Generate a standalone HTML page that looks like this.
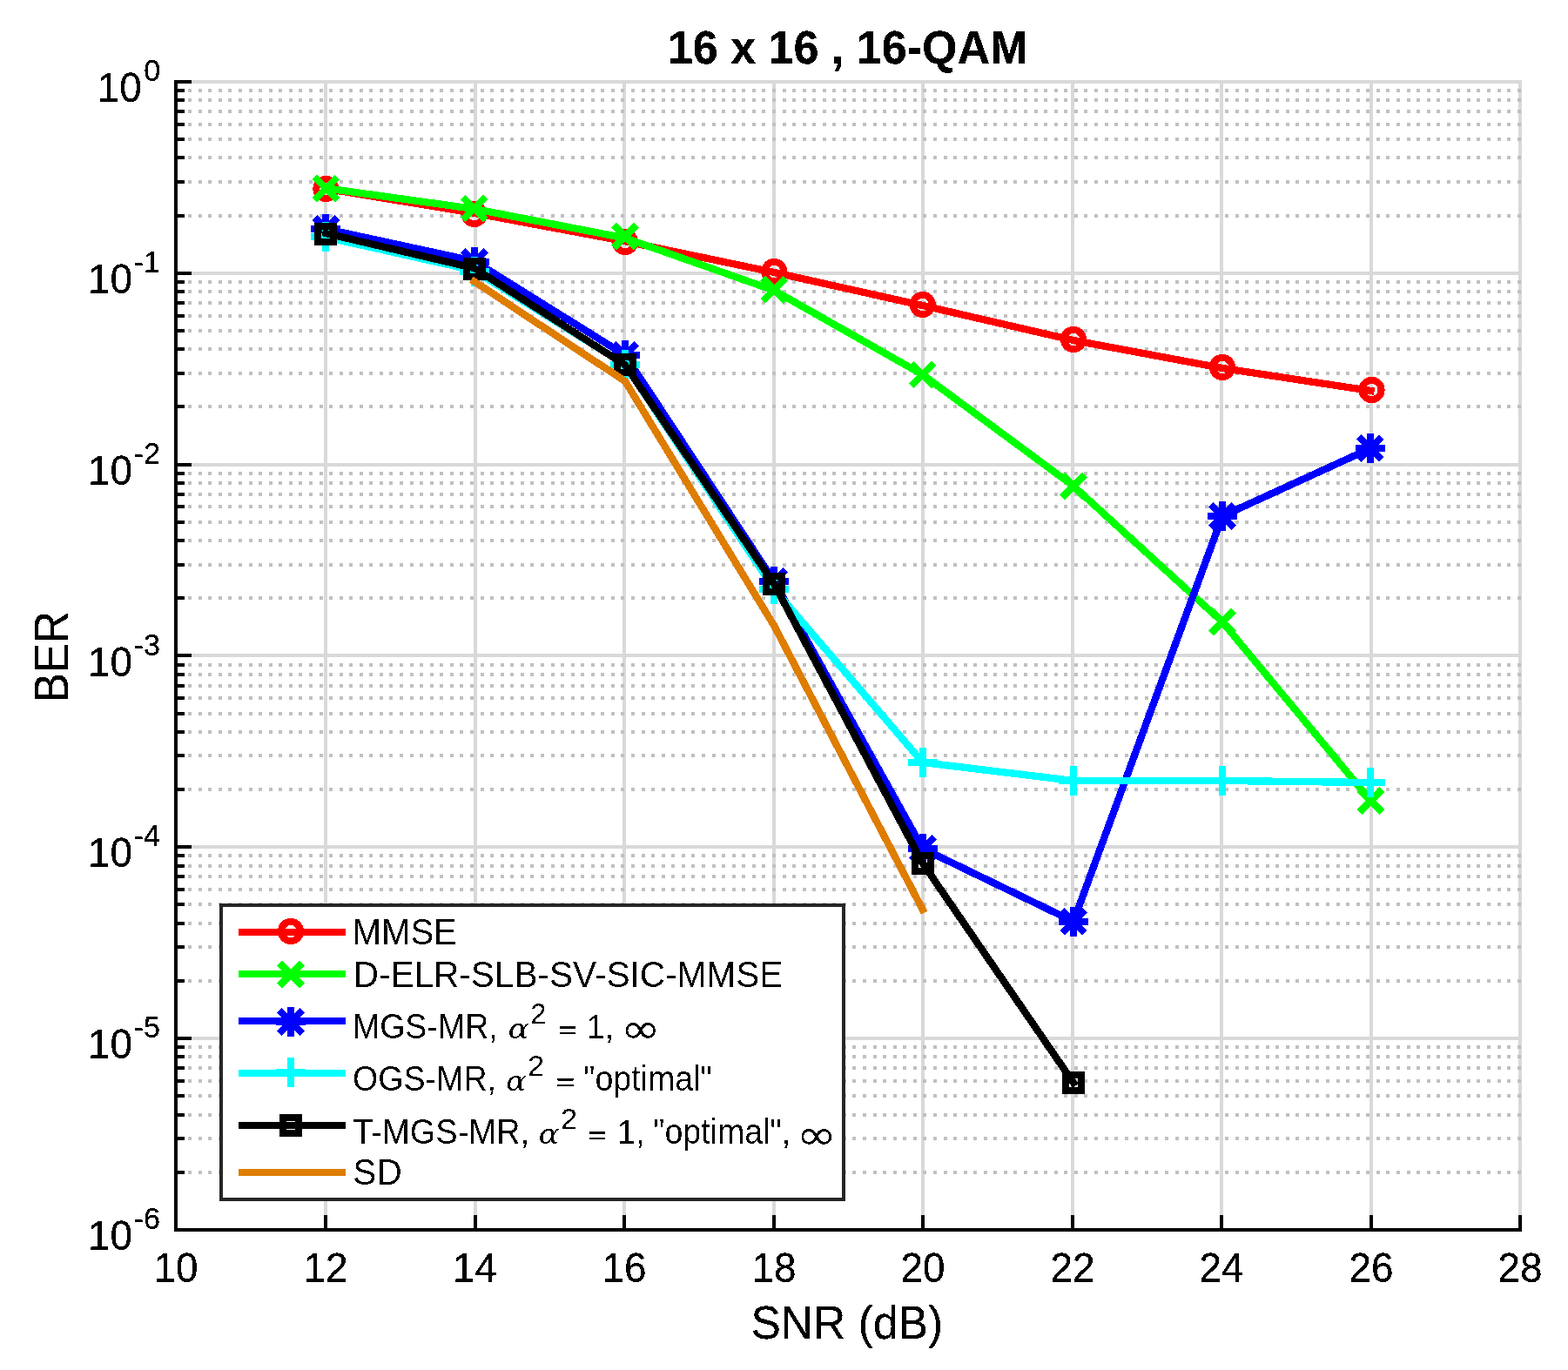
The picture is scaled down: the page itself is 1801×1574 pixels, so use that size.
<!DOCTYPE html>
<html lang="en"><head><meta charset="utf-8"><title>16 x 16 , 16-QAM</title>
<style>html,body{margin:0;padding:0;background:#fff}svg{display:block}text{font-family:"Liberation Sans",sans-serif;fill:#000}.m{font-family:"DejaVu Serif","Liberation Serif",serif;font-style:italic}.i{font-family:"DejaVu Sans","Liberation Sans",sans-serif}</style></head><body>
<svg width="1801" height="1574" viewBox="0 0 1801 1574">
<rect x="0" y="0" width="1801" height="1574" fill="#fff"/>
<defs><filter id="bin" x="0" y="0" width="1801" height="1574" filterUnits="userSpaceOnUse" color-interpolation-filters="sRGB"><feComponentTransfer><feFuncA type="discrete" tableValues="0 0 0 0 0 0 0 0 0 0 0 1 1 1 1 1 1 1 1 1"/></feComponentTransfer></filter><filter id="bin2" x="0" y="0" width="1801" height="1574" filterUnits="userSpaceOnUse" color-interpolation-filters="sRGB"><feComponentTransfer><feFuncA type="discrete" tableValues="0 0 0 0 0 0 0 1 1 1 1 1 1 1 1 1 1 1 1 1"/></feComponentTransfer></filter></defs>
<g shape-rendering="crispEdges">
<rect x="372" y="92" width="4" height="1321" fill="#d9d9d9"/>
<rect x="544" y="92" width="4" height="1321" fill="#d9d9d9"/>
<rect x="715" y="92" width="4" height="1321" fill="#d9d9d9"/>
<rect x="887" y="92" width="4" height="1321" fill="#d9d9d9"/>
<rect x="1058" y="92" width="4" height="1321" fill="#d9d9d9"/>
<rect x="1230" y="92" width="4" height="1321" fill="#d9d9d9"/>
<rect x="1401" y="92" width="4" height="1321" fill="#d9d9d9"/>
<rect x="1573" y="92" width="4" height="1321" fill="#d9d9d9"/>
<rect x="1744" y="92" width="4" height="1321" fill="#d9d9d9"/>
<rect x="202" y="92" width="1546" height="4" fill="#d9d9d9"/>
<rect x="202" y="312" width="1546" height="4" fill="#d9d9d9"/>
<rect x="202" y="532" width="1546" height="4" fill="#d9d9d9"/>
<rect x="202" y="751" width="1546" height="4" fill="#d9d9d9"/>
<rect x="202" y="971" width="1546" height="4" fill="#d9d9d9"/>
<rect x="202" y="1191" width="1546" height="4" fill="#d9d9d9"/>
<g stroke="#c0c0c0" stroke-width="4" stroke-dasharray="4 7.565" fill="none">
<line x1="204.6" y1="248" x2="1748" y2="248"/>
<line x1="204.6" y1="209" x2="1748" y2="209"/>
<line x1="204.6" y1="181" x2="1748" y2="181"/>
<line x1="204.6" y1="160" x2="1748" y2="160"/>
<line x1="204.6" y1="143" x2="1748" y2="143"/>
<line x1="204.6" y1="128" x2="1748" y2="128"/>
<line x1="204.6" y1="115" x2="1748" y2="115"/>
<line x1="204.6" y1="104" x2="1748" y2="104"/>
<line x1="204.6" y1="467" x2="1748" y2="467"/>
<line x1="204.6" y1="429" x2="1748" y2="429"/>
<line x1="204.6" y1="401" x2="1748" y2="401"/>
<line x1="204.6" y1="380" x2="1748" y2="380"/>
<line x1="204.6" y1="363" x2="1748" y2="363"/>
<line x1="204.6" y1="348" x2="1748" y2="348"/>
<line x1="204.6" y1="335" x2="1748" y2="335"/>
<line x1="204.6" y1="324" x2="1748" y2="324"/>
<line x1="204.6" y1="687" x2="1748" y2="687"/>
<line x1="204.6" y1="649" x2="1748" y2="649"/>
<line x1="204.6" y1="621" x2="1748" y2="621"/>
<line x1="204.6" y1="600" x2="1748" y2="600"/>
<line x1="204.6" y1="582" x2="1748" y2="582"/>
<line x1="204.6" y1="568" x2="1748" y2="568"/>
<line x1="204.6" y1="555" x2="1748" y2="555"/>
<line x1="204.6" y1="544" x2="1748" y2="544"/>
<line x1="204.6" y1="907" x2="1748" y2="907"/>
<line x1="204.6" y1="868" x2="1748" y2="868"/>
<line x1="204.6" y1="841" x2="1748" y2="841"/>
<line x1="204.6" y1="820" x2="1748" y2="820"/>
<line x1="204.6" y1="802" x2="1748" y2="802"/>
<line x1="204.6" y1="788" x2="1748" y2="788"/>
<line x1="204.6" y1="775" x2="1748" y2="775"/>
<line x1="204.6" y1="764" x2="1748" y2="764"/>
<line x1="204.6" y1="1127" x2="1748" y2="1127"/>
<line x1="204.6" y1="1088" x2="1748" y2="1088"/>
<line x1="204.6" y1="1061" x2="1748" y2="1061"/>
<line x1="204.6" y1="1039" x2="1748" y2="1039"/>
<line x1="204.6" y1="1022" x2="1748" y2="1022"/>
<line x1="204.6" y1="1007" x2="1748" y2="1007"/>
<line x1="204.6" y1="995" x2="1748" y2="995"/>
<line x1="204.6" y1="983" x2="1748" y2="983"/>
<line x1="204.6" y1="1347" x2="1748" y2="1347"/>
<line x1="204.6" y1="1308" x2="1748" y2="1308"/>
<line x1="204.6" y1="1281" x2="1748" y2="1281"/>
<line x1="204.6" y1="1259" x2="1748" y2="1259"/>
<line x1="204.6" y1="1242" x2="1748" y2="1242"/>
<line x1="204.6" y1="1227" x2="1748" y2="1227"/>
<line x1="204.6" y1="1214" x2="1748" y2="1214"/>
<line x1="204.6" y1="1203" x2="1748" y2="1203"/>
</g>
<rect x="200" y="92" width="4" height="1323" fill="#000"/>
<rect x="200" y="1411" width="1548" height="4" fill="#000"/>
<rect x="200" y="1396" width="4" height="17" fill="#000"/>
<rect x="372" y="1396" width="4" height="17" fill="#000"/>
<rect x="544" y="1396" width="4" height="17" fill="#000"/>
<rect x="715" y="1396" width="4" height="17" fill="#000"/>
<rect x="887" y="1396" width="4" height="17" fill="#000"/>
<rect x="1058" y="1396" width="4" height="17" fill="#000"/>
<rect x="1230" y="1396" width="4" height="17" fill="#000"/>
<rect x="1401" y="1396" width="4" height="17" fill="#000"/>
<rect x="1573" y="1396" width="4" height="17" fill="#000"/>
<rect x="1744" y="1396" width="4" height="17" fill="#000"/>
<rect x="202" y="92" width="18" height="4" fill="#000"/>
<rect x="202" y="312" width="18" height="4" fill="#000"/>
<rect x="202" y="532" width="18" height="4" fill="#000"/>
<rect x="202" y="751" width="18" height="4" fill="#000"/>
<rect x="202" y="971" width="18" height="4" fill="#000"/>
<rect x="202" y="1191" width="18" height="4" fill="#000"/>
<rect x="202" y="1411" width="18" height="4" fill="#000"/>
<rect x="202" y="246" width="10" height="4" fill="#000"/>
<rect x="202" y="207" width="10" height="4" fill="#000"/>
<rect x="202" y="179" width="10" height="4" fill="#000"/>
<rect x="202" y="158" width="10" height="4" fill="#000"/>
<rect x="202" y="141" width="10" height="4" fill="#000"/>
<rect x="202" y="126" width="10" height="4" fill="#000"/>
<rect x="202" y="113" width="10" height="4" fill="#000"/>
<rect x="202" y="102" width="10" height="4" fill="#000"/>
<rect x="202" y="465" width="10" height="4" fill="#000"/>
<rect x="202" y="427" width="10" height="4" fill="#000"/>
<rect x="202" y="399" width="10" height="4" fill="#000"/>
<rect x="202" y="378" width="10" height="4" fill="#000"/>
<rect x="202" y="361" width="10" height="4" fill="#000"/>
<rect x="202" y="346" width="10" height="4" fill="#000"/>
<rect x="202" y="333" width="10" height="4" fill="#000"/>
<rect x="202" y="322" width="10" height="4" fill="#000"/>
<rect x="202" y="685" width="10" height="4" fill="#000"/>
<rect x="202" y="647" width="10" height="4" fill="#000"/>
<rect x="202" y="619" width="10" height="4" fill="#000"/>
<rect x="202" y="598" width="10" height="4" fill="#000"/>
<rect x="202" y="580" width="10" height="4" fill="#000"/>
<rect x="202" y="566" width="10" height="4" fill="#000"/>
<rect x="202" y="553" width="10" height="4" fill="#000"/>
<rect x="202" y="542" width="10" height="4" fill="#000"/>
<rect x="202" y="905" width="10" height="4" fill="#000"/>
<rect x="202" y="866" width="10" height="4" fill="#000"/>
<rect x="202" y="839" width="10" height="4" fill="#000"/>
<rect x="202" y="818" width="10" height="4" fill="#000"/>
<rect x="202" y="800" width="10" height="4" fill="#000"/>
<rect x="202" y="786" width="10" height="4" fill="#000"/>
<rect x="202" y="773" width="10" height="4" fill="#000"/>
<rect x="202" y="762" width="10" height="4" fill="#000"/>
<rect x="202" y="1125" width="10" height="4" fill="#000"/>
<rect x="202" y="1086" width="10" height="4" fill="#000"/>
<rect x="202" y="1059" width="10" height="4" fill="#000"/>
<rect x="202" y="1037" width="10" height="4" fill="#000"/>
<rect x="202" y="1020" width="10" height="4" fill="#000"/>
<rect x="202" y="1005" width="10" height="4" fill="#000"/>
<rect x="202" y="993" width="10" height="4" fill="#000"/>
<rect x="202" y="981" width="10" height="4" fill="#000"/>
<rect x="202" y="1345" width="10" height="4" fill="#000"/>
<rect x="202" y="1306" width="10" height="4" fill="#000"/>
<rect x="202" y="1279" width="10" height="4" fill="#000"/>
<rect x="202" y="1257" width="10" height="4" fill="#000"/>
<rect x="202" y="1240" width="10" height="4" fill="#000"/>
<rect x="202" y="1225" width="10" height="4" fill="#000"/>
<rect x="202" y="1212" width="10" height="4" fill="#000"/>
<rect x="202" y="1201" width="10" height="4" fill="#000"/>
</g>
<g shape-rendering="crispEdges">
<polyline points="374.4,216.80 544.8,244.80 718.0,277.20 889.2,313.00 1059.8,351.00 1233.0,391.00 1404.0,423.00 1574.5,449.00" fill="none" stroke="#ff0000" stroke-width="8.33" stroke-linejoin="miter" stroke-linecap="square"/>
<circle cx="374.4" cy="217" r="11.1" fill="none" stroke="#ff0000" stroke-width="8"/>
<circle cx="544.8" cy="246" r="11.1" fill="none" stroke="#ff0000" stroke-width="8"/>
<circle cx="718.0" cy="278" r="11.1" fill="none" stroke="#ff0000" stroke-width="8"/>
<circle cx="889.2" cy="312" r="11.1" fill="none" stroke="#ff0000" stroke-width="8"/>
<circle cx="1059.8" cy="350" r="11.1" fill="none" stroke="#ff0000" stroke-width="8"/>
<circle cx="1233.0" cy="390" r="11.1" fill="none" stroke="#ff0000" stroke-width="8"/>
<circle cx="1404.0" cy="422" r="11.1" fill="none" stroke="#ff0000" stroke-width="8"/>
<circle cx="1575.5" cy="448" r="11.1" fill="none" stroke="#ff0000" stroke-width="8"/>
<polyline points="374.4,216.30 544.8,240.00 718.0,273.50 889.2,333.70 1059.8,430.50 1233.0,558.50 1404.0,714.50 1574.5,920.00" fill="none" stroke="#00ff00" stroke-width="8.33" stroke-linejoin="miter" stroke-linecap="square"/>
<path d="M364.10 206.40L384.70 227.00M364.10 227.00L384.70 206.40" fill="none" stroke="#00ff00" stroke-width="8" stroke-linecap="square"/>
<path d="M534.50 229.20L555.10 249.80M534.50 249.80L555.10 229.20" fill="none" stroke="#00ff00" stroke-width="8" stroke-linecap="square"/>
<path d="M707.70 261.20L728.30 281.80M707.70 281.80L728.30 261.20" fill="none" stroke="#00ff00" stroke-width="8" stroke-linecap="square"/>
<path d="M878.90 322.40L899.50 343.00M878.90 343.00L899.50 322.40" fill="none" stroke="#00ff00" stroke-width="8" stroke-linecap="square"/>
<path d="M1049.50 420.20L1070.10 440.80M1049.50 440.80L1070.10 420.20" fill="none" stroke="#00ff00" stroke-width="8" stroke-linecap="square"/>
<path d="M1222.70 548.20L1243.30 568.80M1222.70 568.80L1243.30 548.20" fill="none" stroke="#00ff00" stroke-width="8" stroke-linecap="square"/>
<path d="M1393.70 704.20L1414.30 724.80M1393.70 724.80L1414.30 704.20" fill="none" stroke="#00ff00" stroke-width="8" stroke-linecap="square"/>
<path d="M1564.20 909.70L1584.80 930.30M1564.20 930.30L1584.80 909.70" fill="none" stroke="#00ff00" stroke-width="8" stroke-linecap="square"/>
<polyline points="374.4,263.10 544.8,300.00 718.0,408.00 889.2,668.00 1059.8,975.00 1233.0,1058.70 1404.0,593.00 1574.5,515.00" fill="none" stroke="#0000ff" stroke-width="8.33" stroke-linejoin="miter" stroke-linecap="square"/>
<path d="M364.10 252.70L384.70 273.30M364.10 273.30L384.70 252.70" fill="none" stroke="#0000ff" stroke-width="8" stroke-linecap="square"/><path d="M361.40 263L387.40 263M374.4 250.00L374.4 276.00" fill="none" stroke="#0000ff" stroke-width="8" stroke-linecap="square"/>
<path d="M534.50 290.70L555.10 311.30M534.50 311.30L555.10 290.70" fill="none" stroke="#0000ff" stroke-width="8" stroke-linecap="square"/><path d="M531.80 301L557.80 301M544.8 288.00L544.8 314.00" fill="none" stroke="#0000ff" stroke-width="8" stroke-linecap="square"/>
<path d="M707.70 397.70L728.30 418.30M707.70 418.30L728.30 397.70" fill="none" stroke="#0000ff" stroke-width="8" stroke-linecap="square"/><path d="M705.00 408L731.00 408M718.0 395.00L718.0 421.00" fill="none" stroke="#0000ff" stroke-width="8" stroke-linecap="square"/>
<path d="M878.90 657.70L899.50 678.30M878.90 678.30L899.50 657.70" fill="none" stroke="#0000ff" stroke-width="8" stroke-linecap="square"/><path d="M876.20 668L902.20 668M889.2 655.00L889.2 681.00" fill="none" stroke="#0000ff" stroke-width="8" stroke-linecap="square"/>
<path d="M1049.50 964.70L1070.10 985.30M1049.50 985.30L1070.10 964.70" fill="none" stroke="#0000ff" stroke-width="8" stroke-linecap="square"/><path d="M1046.80 975L1072.80 975M1059.8 962.00L1059.8 988.00" fill="none" stroke="#0000ff" stroke-width="8" stroke-linecap="square"/>
<path d="M1222.70 1048.40L1243.30 1069.00M1222.70 1069.00L1243.30 1048.40" fill="none" stroke="#0000ff" stroke-width="8" stroke-linecap="square"/><path d="M1220.00 1058.7L1246.00 1058.7M1233.0 1045.70L1233.0 1071.70" fill="none" stroke="#0000ff" stroke-width="8" stroke-linecap="square"/>
<path d="M1393.70 582.70L1414.30 603.30M1393.70 603.30L1414.30 582.70" fill="none" stroke="#0000ff" stroke-width="8" stroke-linecap="square"/><path d="M1391.00 593L1417.00 593M1404.0 580.00L1404.0 606.00" fill="none" stroke="#0000ff" stroke-width="8" stroke-linecap="square"/>
<path d="M1563.40 504.70L1584.00 525.30M1563.40 525.30L1584.00 504.70" fill="none" stroke="#0000ff" stroke-width="8" stroke-linecap="square"/><path d="M1560.70 515L1586.70 515M1573.7 502.00L1573.7 528.00" fill="none" stroke="#0000ff" stroke-width="8" stroke-linecap="square"/>
<polyline points="374.4,272.50 544.8,310.80 718.0,419.00 889.2,677.00 1059.8,876.00 1233.0,897.00 1404.0,897.00 1574.5,899.00" fill="none" stroke="#00ffff" stroke-width="8.33" stroke-linejoin="miter" stroke-linecap="square"/>
<path d="M361.40 272L387.40 272M374.4 259.00L374.4 285.00" fill="none" stroke="#00ffff" stroke-width="8" stroke-linecap="square"/>
<path d="M531.80 312L557.80 312M544.8 299.00L544.8 325.00" fill="none" stroke="#00ffff" stroke-width="8" stroke-linecap="square"/>
<path d="M705.00 419L731.00 419M718.0 406.00L718.0 432.00" fill="none" stroke="#00ffff" stroke-width="8" stroke-linecap="square"/>
<path d="M876.20 677L902.20 677M889.2 664.00L889.2 690.00" fill="none" stroke="#00ffff" stroke-width="8" stroke-linecap="square"/>
<path d="M1046.80 876L1072.80 876M1059.8 863.00L1059.8 889.00" fill="none" stroke="#00ffff" stroke-width="8" stroke-linecap="square"/>
<path d="M1220.00 897L1246.00 897M1233.0 884.00L1233.0 910.00" fill="none" stroke="#00ffff" stroke-width="8" stroke-linecap="square"/>
<path d="M1391.00 897L1417.00 897M1404.0 884.00L1404.0 910.00" fill="none" stroke="#00ffff" stroke-width="8" stroke-linecap="square"/>
<path d="M1560.50 899L1586.50 899M1573.5 886.00L1573.5 912.00" fill="none" stroke="#00ffff" stroke-width="8" stroke-linecap="square"/>
<polyline points="374.4,268.10 544.8,308.10 718.0,419.30 889.2,671.00 1059.8,991.80 1233.0,1244.00" fill="none" stroke="#000000" stroke-width="8.33" stroke-linejoin="miter" stroke-linecap="square"/>
<rect x="365.00" y="260.00" width="18.00" height="18.00" fill="none" stroke="#000000" stroke-width="8"/>
<rect x="536.00" y="300.00" width="18.00" height="18.00" fill="none" stroke="#000000" stroke-width="8"/>
<rect x="709.00" y="410.00" width="18.00" height="18.00" fill="none" stroke="#000000" stroke-width="8"/>
<rect x="880.00" y="662.00" width="18.00" height="18.00" fill="none" stroke="#000000" stroke-width="8"/>
<rect x="1051.00" y="983.00" width="18.00" height="18.00" fill="none" stroke="#000000" stroke-width="8"/>
<rect x="1224.00" y="1235.00" width="18.00" height="18.00" fill="none" stroke="#000000" stroke-width="8"/>
<polyline points="544.8,323.40 718.0,438.00 889.2,719.00 1059.8,1045.00" fill="none" stroke="#de7d00" stroke-width="8.33" stroke-linejoin="miter" stroke-linecap="square"/>
</g>
<g shape-rendering="crispEdges">
<rect x="254" y="1040" width="715" height="338" fill="#fff" stroke="#262626" stroke-width="4"/>
<rect x="274" y="1067" width="123" height="8" fill="#ff0000"/>
<circle cx="334.0" cy="1070" r="11.1" fill="none" stroke="#ff0000" stroke-width="8"/>
<rect x="274" y="1115" width="123" height="8" fill="#00ff00"/>
<path d="M323.70 1109.20L344.30 1129.80M323.70 1129.80L344.30 1109.20" fill="none" stroke="#00ff00" stroke-width="8" stroke-linecap="square"/>
<rect x="274" y="1169" width="123" height="8" fill="#0000ff"/>
<path d="M323.70 1163.70L344.30 1184.30M323.70 1184.30L344.30 1163.70" fill="none" stroke="#0000ff" stroke-width="8" stroke-linecap="square"/><path d="M321.00 1174L347.00 1174M334.0 1161.00L334.0 1187.00" fill="none" stroke="#0000ff" stroke-width="8" stroke-linecap="square"/>
<rect x="274" y="1229" width="123" height="8" fill="#00ffff"/>
<path d="M321.00 1232L347.00 1232M334.0 1219.00L334.0 1245.00" fill="none" stroke="#00ffff" stroke-width="8" stroke-linecap="square"/>
<rect x="274" y="1289" width="123" height="8" fill="#000000"/>
<rect x="325.00" y="1284.00" width="18.00" height="18.00" fill="none" stroke="#000000" stroke-width="8"/>
<rect x="274" y="1343" width="123" height="8" fill="#de7d00"/>
</g>
<g filter="url(#bin)">
<text transform="translate(404.59 1084.90) scale(1 1.0722)" font-size="40.10">MMSE</text>
<text transform="translate(405.65 1133.90) scale(1 1.0599)" font-size="40.57">D-ELR-SLB-SV-SIC-MMSE</text>
<text transform="translate(405.37 1361.30) scale(1 1.0606)" font-size="40.54">SD</text>
<text transform="translate(404.90 1192.90) scale(1 1.0647)" font-size="37.54">MGS-MR,</text>
<text transform="translate(583.54 1192.88) scale(1 0.8905)" font-size="36.39" class="m">α</text>
<text transform="translate(609.25 1176.10) scale(1 1.0044)" font-size="33.04">2</text>
<text transform="translate(641.23 1192.18) scale(1 0.6364)" font-size="36.80" font-weight="bold">=</text>
<text transform="translate(673.79 1192.90) scale(1 1.0445)" font-size="37.58">1,</text>
<text transform="translate(712.70 1198.40) scale(1 0.8525)" font-size="55.48" class="i">∞</text>
<text transform="translate(405.12 1252.90) scale(1 1.0637)" font-size="37.58">OGS-MR,</text>
<text transform="translate(581.08 1252.88) scale(1 0.9110)" font-size="35.57" class="m">α</text>
<text transform="translate(606.07 1236.10) scale(1 0.9602)" font-size="34.57">2</text>
<text transform="translate(638.63 1252.18) scale(1 0.6364)" font-size="36.80" font-weight="bold">=</text>
<text transform="translate(670.10 1252.90) scale(1 1.0642)" font-size="37.56">"optimal"</text>
<text transform="translate(405.14 1314.00) scale(1 1.0495)" font-size="38.08">T-MGS-MR,</text>
<text transform="translate(618.57 1313.98) scale(1 0.9068)" font-size="35.74" class="m">α</text>
<text transform="translate(644.08 1297.20) scale(1 0.9663)" font-size="34.35">2</text>
<text transform="translate(675.34 1313.28) scale(1 0.6399)" font-size="36.60" font-weight="bold">=</text>
<text transform="translate(708.75 1314.00) scale(1 1.0280)" font-size="38.18">1,</text>
<text transform="translate(750.10 1314.00) scale(1 1.0645)" font-size="37.55">"optimal",</text>
<text transform="translate(914.43 1319.50) scale(1 0.8427)" font-size="56.13" class="i">∞</text>
</g>
<g filter="url(#bin2)">
<text transform="translate(202 1473.1) scale(1 1.0375)" font-size="45.9" text-anchor="middle">10</text>
<text transform="translate(374 1473.1) scale(1 1.0375)" font-size="45.9" text-anchor="middle">12</text>
<text transform="translate(545.5 1473.1) scale(1 1.0375)" font-size="45.9" text-anchor="middle">14</text>
<text transform="translate(717 1473.1) scale(1 1.0375)" font-size="45.9" text-anchor="middle">16</text>
<text transform="translate(889 1473.1) scale(1 1.0375)" font-size="45.9" text-anchor="middle">18</text>
<text transform="translate(1060 1473.1) scale(1 1.0375)" font-size="45.9" text-anchor="middle">20</text>
<text transform="translate(1232 1473.1) scale(1 1.0375)" font-size="45.9" text-anchor="middle">22</text>
<text transform="translate(1403 1473.1) scale(1 1.0375)" font-size="45.9" text-anchor="middle">24</text>
<text transform="translate(1575 1473.1) scale(1 1.0375)" font-size="45.9" text-anchor="middle">26</text>
<text transform="translate(1746 1473.1) scale(1 1.0375)" font-size="45.9" text-anchor="middle">28</text>
<text transform="translate(162.85 117.00) scale(1 1.0375)" font-size="45.9" text-anchor="end">10</text>
<text transform="translate(165.30 93.10) scale(1 1.0337)" font-size="34.2">0</text>
<text transform="translate(151.95 336.83) scale(1 1.0375)" font-size="45.9" text-anchor="end">10</text>
<text transform="translate(153.60 312.93) scale(1 1.0337)" font-size="34.2">-1</text>
<text transform="translate(151.95 556.67) scale(1 1.0375)" font-size="45.9" text-anchor="end">10</text>
<text transform="translate(153.60 532.77) scale(1 1.0337)" font-size="34.2">-2</text>
<text transform="translate(151.95 776.50) scale(1 1.0375)" font-size="45.9" text-anchor="end">10</text>
<text transform="translate(153.60 752.60) scale(1 1.0337)" font-size="34.2">-3</text>
<text transform="translate(151.95 996.33) scale(1 1.0375)" font-size="45.9" text-anchor="end">10</text>
<text transform="translate(153.60 972.43) scale(1 1.0337)" font-size="34.2">-4</text>
<text transform="translate(151.95 1216.17) scale(1 1.0375)" font-size="45.9" text-anchor="end">10</text>
<text transform="translate(153.60 1192.27) scale(1 1.0337)" font-size="34.2">-5</text>
<text transform="translate(151.95 1436.00) scale(1 1.0375)" font-size="45.9" text-anchor="end">10</text>
<text transform="translate(153.60 1412.10) scale(1 1.0337)" font-size="34.2">-6</text>
<text transform="translate(766.88 73.10) scale(1 1.0314)" font-size="52.05" font-weight="bold">16 x 16 , 16-QAM</text>
<text transform="translate(862.42 1537.80) scale(1 1.0430)" font-size="51.61">SNR (dB)</text>
<text transform="translate(78.1 807.30) rotate(-90) scale(1 1.0738)" font-size="51.20">BER</text>
</g>
</svg></body></html>
